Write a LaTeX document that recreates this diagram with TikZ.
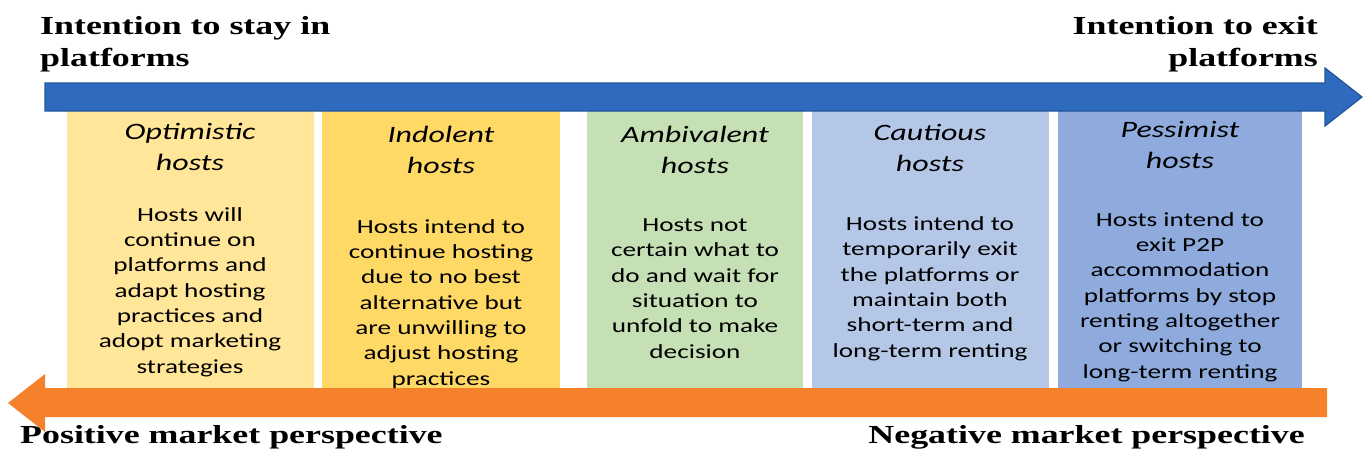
\documentclass[tikz,border=0pt]{standalone}
\usepackage{fontspec}
\setmainfont[FakeStretch=1.36]{Carlito}
\newfontfamily\headfont[FakeStretch=1.38]{Liberation Serif}
\usetikzlibrary{calc}

\definecolor{barblue}{HTML}{2E6BBF}
\definecolor{barblueedge}{HTML}{24559A}
\definecolor{barorange}{HTML}{F6812C}
\definecolor{optimfill}{HTML}{FFE699}
\definecolor{indolfill}{HTML}{FFD966}
\definecolor{ambivfill}{HTML}{C5E0B4}
\definecolor{cautfill}{HTML}{B4C7E7}
\definecolor{pessfill}{HTML}{8FAADC}

\tikzset{
	headlabel/.style={font=\headfont\bfseries\fontsize{26}{32}\selectfont, inner sep=0pt},
	hosttitle/.style={font=\itshape\fontsize{23.5}{31}\selectfont, align=center, anchor=base, inner sep=0pt},
	hostbody/.style={font=\fontsize{20}{25.3}\selectfont, align=center, anchor=base, inner sep=0pt}
}

\begin{document}
\begin{tikzpicture}[x=1pt,y=-1pt]
			\def\boxtop{105};
			\def\boxbot{395};
			\useasboundingbox (0,0) rectangle (1370,459);
			
			\fill[optimfill] (67,\boxtop) rectangle (314,\boxbot);
			\fill[indolfill] (322,\boxtop) rectangle (560,\boxbot);
			\fill[ambivfill] (587,\boxtop) rectangle (803,\boxbot);
			\fill[cautfill] (812,\boxtop) rectangle (1049,\boxbot);
			\fill[pessfill] (1058,\boxtop) rectangle (1302,\boxbot);
			
			% stay -> exit
			\filldraw[fill=barblue, draw=barblueedge, line width=1.2pt, line join=miter] (45,83) -- (1325,83) -- (1325,68) -- (1362,97) -- (1325,126) -- (1325,111) -- (45,111) -- cycle;
			% negative -> positive
			\fill[barorange] (1327,388) -- (45,388) -- (45,374) -- (8,403) -- (45,432) -- (45,417) -- (1327,417) -- cycle;
			
			% base = last line
			\node[headlabel, anchor=base west, align=left] (stay) at (40,66) {Intention to stay in\\platforms};
			\node[headlabel, anchor=base east, align=right] (exit) at (1318,66) {Intention to exit\\platforms};
			\node[headlabel, anchor=base west] (positive) at (20,443) {Positive market perspective};
			\node[headlabel, anchor=base east] (negative) at (1305,443) {Negative market perspective};
			
			\node[hosttitle] (optim) at (190,170) {Optimistic\\hosts};
			\node[hostbody] (optimtxt) at (190,373) {Hosts will\\continue on\\platforms and\\adapt hosting\\practices and\\adopt marketing\\strategies};
			
			\node[hosttitle] (indol) at (441,173) {Indolent\\hosts};
			\node[hostbody] (indoltxt) at (441,385) {Hosts intend to\\continue hosting\\due to no best\\alternative but\\are unwilling to\\adjust hosting\\practices};
			
			\node[hosttitle] (ambiv) at (695,173) {Ambivalent\\hosts};
			\node[hostbody] (ambivtxt) at (695,358) {Hosts not\\certain what to\\do and wait for\\situation to\\unfold to make\\decision};
			
			\node[hosttitle] (caut) at (930,171) {Cautious\\hosts};
			\node[hostbody] (cauttxt) at (930,357) {Hosts intend to\\temporarily exit\\the platforms or\\maintain both\\short-term and\\long-term renting};
			
			\node[hosttitle] (pess) at (1180,168) {Pessimist\\hosts};
			\node[hostbody] (pesstxt) at (1180,378) {Hosts intend to\\exit P2P\\accommodation\\platforms by stop\\renting altogether\\or switching to\\long-term renting};
			\end{tikzpicture}
\end{document}
